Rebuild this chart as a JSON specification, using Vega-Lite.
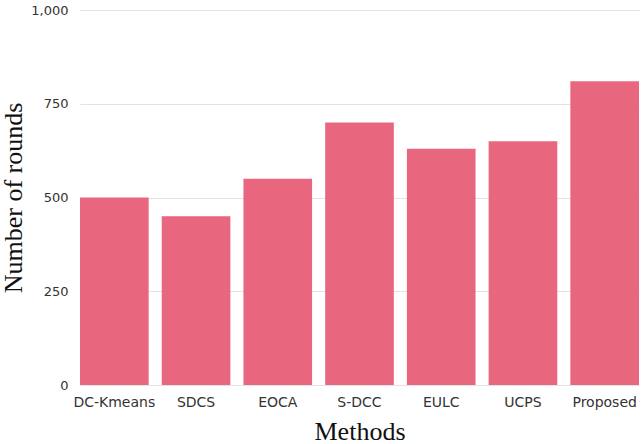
{
  "$schema": "https://vega.github.io/schema/vega-lite/v6.json",
  "width": 644,
  "height": 444,
  "autosize": {"type": "fit", "contains": "padding"},
  "padding": {"left": 0, "top": 4, "right": 5, "bottom": 0},
  "background": "white",
  "data": {
    "values": [
      {"method": "DC-Kmeans", "rounds": 500},
      {"method": "SDCS", "rounds": 450},
      {"method": "EOCA", "rounds": 550},
      {"method": "S-DCC", "rounds": 700},
      {"method": "EULC", "rounds": 630},
      {"method": "UCPS", "rounds": 650},
      {"method": "Proposed", "rounds": 810}
    ]
  },
  "mark": {"type": "bar", "color": "#E9667F"},
  "encoding": {
    "x": {
      "field": "method",
      "type": "nominal",
      "sort": null,
      "title": "Methods",
      "scale": {"paddingInner": 0.16, "paddingOuter": 0},
      "axis": {
        "labelAngle": 0,
        "domain": false,
        "ticks": false,
        "labelFont": "DejaVu Sans",
        "labelFontSize": 14,
        "labelColor": "#333333",
        "labelPadding": 10,
        "titleFont": "Liberation Serif",
        "titleFontSize": 26,
        "titleFontWeight": "normal",
        "titleColor": "#111111",
        "titlePadding": 9
      }
    },
    "y": {
      "field": "rounds",
      "type": "quantitative",
      "title": "Number of rounds",
      "scale": {"domain": [0, 1000]},
      "axis": {
        "values": [0, 250, 500, 750, 1000],
        "format": ",d",
        "domain": false,
        "ticks": false,
        "gridColor": "#e3e3e3",
        "labelFont": "DejaVu Sans",
        "labelFontSize": 13,
        "labelColor": "#333333",
        "labelPadding": 12,
        "titleFont": "Liberation Serif",
        "titleFontSize": 26,
        "titleFontWeight": "normal",
        "titleColor": "#111111",
        "titlePadding": 4
      }
    }
  },
  "config": {"view": {"stroke": null}}
}
